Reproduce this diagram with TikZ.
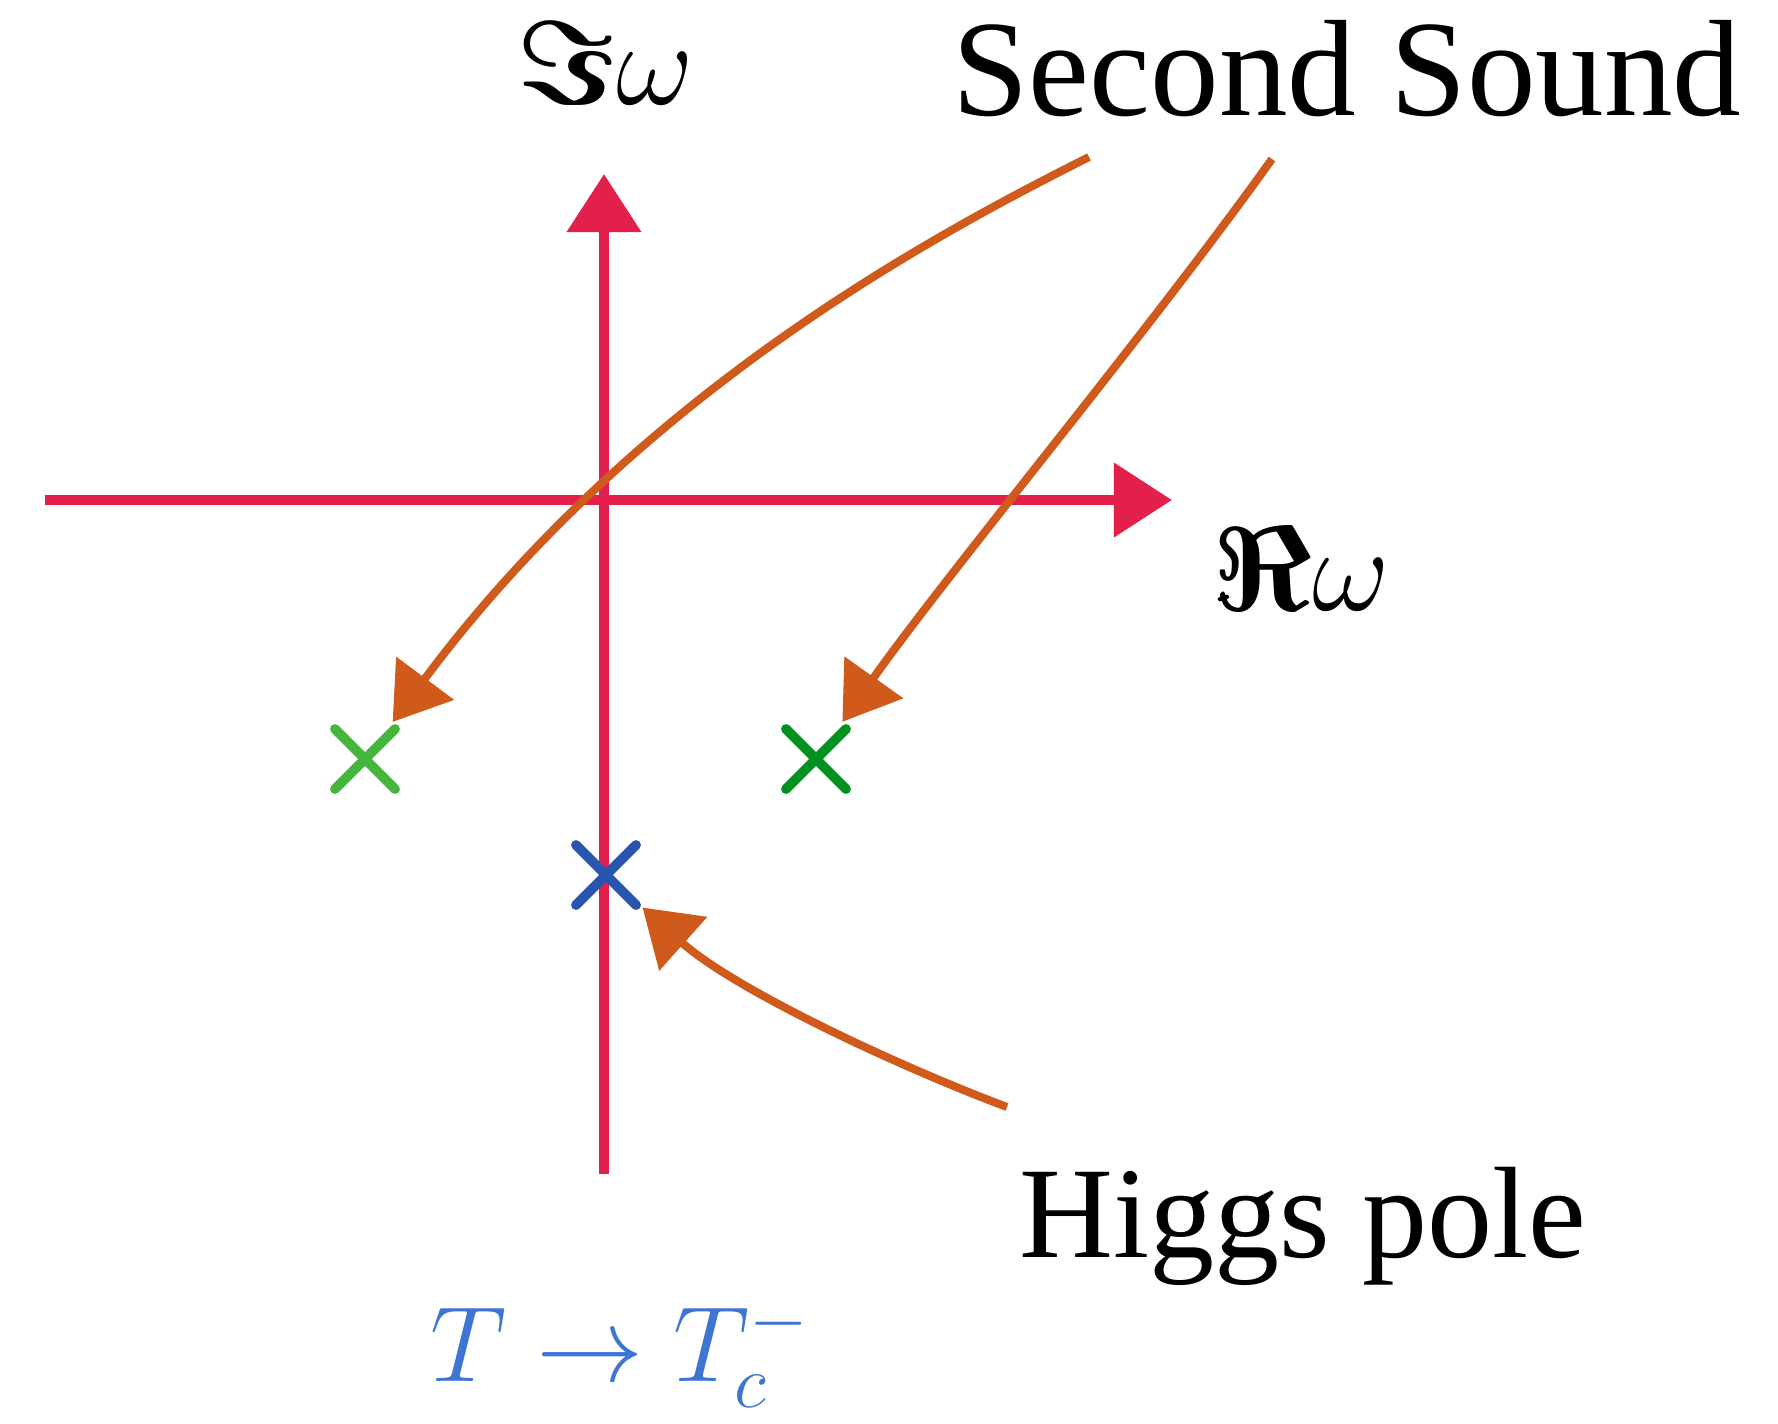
\RequirePackage{fix-cm}
\documentclass[tikz,border=0pt]{standalone}
\usepackage{bm}
\usepackage{fontspec}
\setmainfont{Liberation Serif}
\usepackage{xcolor}
\usepackage{tikz}
\usetikzlibrary{arrows.meta,shapes.misc}

\definecolor{axisred}{HTML}{E3204C}
\definecolor{sorange}{HTML}{CF5A1B}
\definecolor{lgreen}{HTML}{45B53C}
\definecolor{dgreen}{HTML}{00911F}
\definecolor{hblue}{HTML}{2856AF}
\definecolor{tblue}{HTML}{3E75D3}

\begin{document}
\begin{tikzpicture}[
    x=0.01cm, y=-0.01cm,
    axis/.style={line width=3pt, color=axisred, -{Triangle[length=16.5pt, width=20.5pt]}},
    pointer/.style={line width=2.3pt, color=sorange, shorten >=2.5pt, -{Triangle[length=15.5pt, width=20pt]}},
    pole/.style={cross out, draw, line width=2.8pt, line cap=round, minimum size=0.6cm, inner sep=0pt, outer sep=0pt},
    label/.style={anchor=base, inner sep=0pt, font=\fontsize{34pt}{40pt}\selectfont},
    word/.style={anchor=base, inner sep=0pt, font=\fontsize{37pt}{44pt}\selectfont}
]
    \useasboundingbox (0,0) rectangle (1778,1423);

    % axes
    \coordinate (xl) at (45,500);
    \coordinate (xr) at (1172,500);
    \coordinate (yb) at (604,1174);
    \coordinate (yt) at (604,174);
    \draw[axis] (xl) -- (xr);
    \draw[axis] (yb) -- (yt);

    \node[label] (im) at (605,104) {$\bm{\Im}\omega$};
    \node[label] (re) at (1301,610) {$\bm{\Re}\omega$};

    % poles
    \node[pole, color=lgreen] (sl) at (365,759) {};
    \node[pole, color=dgreen] (sr) at (816,759) {};
    \node[pole, color=hblue] (higgs) at (606,875) {};

    \node[word, font=\fontsize{39pt}{44pt}\selectfont] (ss) at (1347,115) {Second Sound};
    \node[word] (hp) at (1303,1257) {Higgs pole};
    \node[label, font=\fontsize{30.5pt}{38pt}\selectfont, color=tblue] (lim) at (620,1381) {$T\to T_c^-$};

    \coordinate (ss-l) at (1089,157);
    \coordinate (ss-r) at (1272,159);
    \coordinate (hp-s) at (1007,1107);

    \draw[pointer] (ss-l) .. controls (940,232) and (640,390) .. (sl);
    \draw[pointer] (ss-r) .. controls (1150,330) and (950,570) .. (sr);
    \draw[pointer] (hp-s) .. controls (895,1065) and (734,989) .. (higgs);
\end{tikzpicture}
\end{document}
